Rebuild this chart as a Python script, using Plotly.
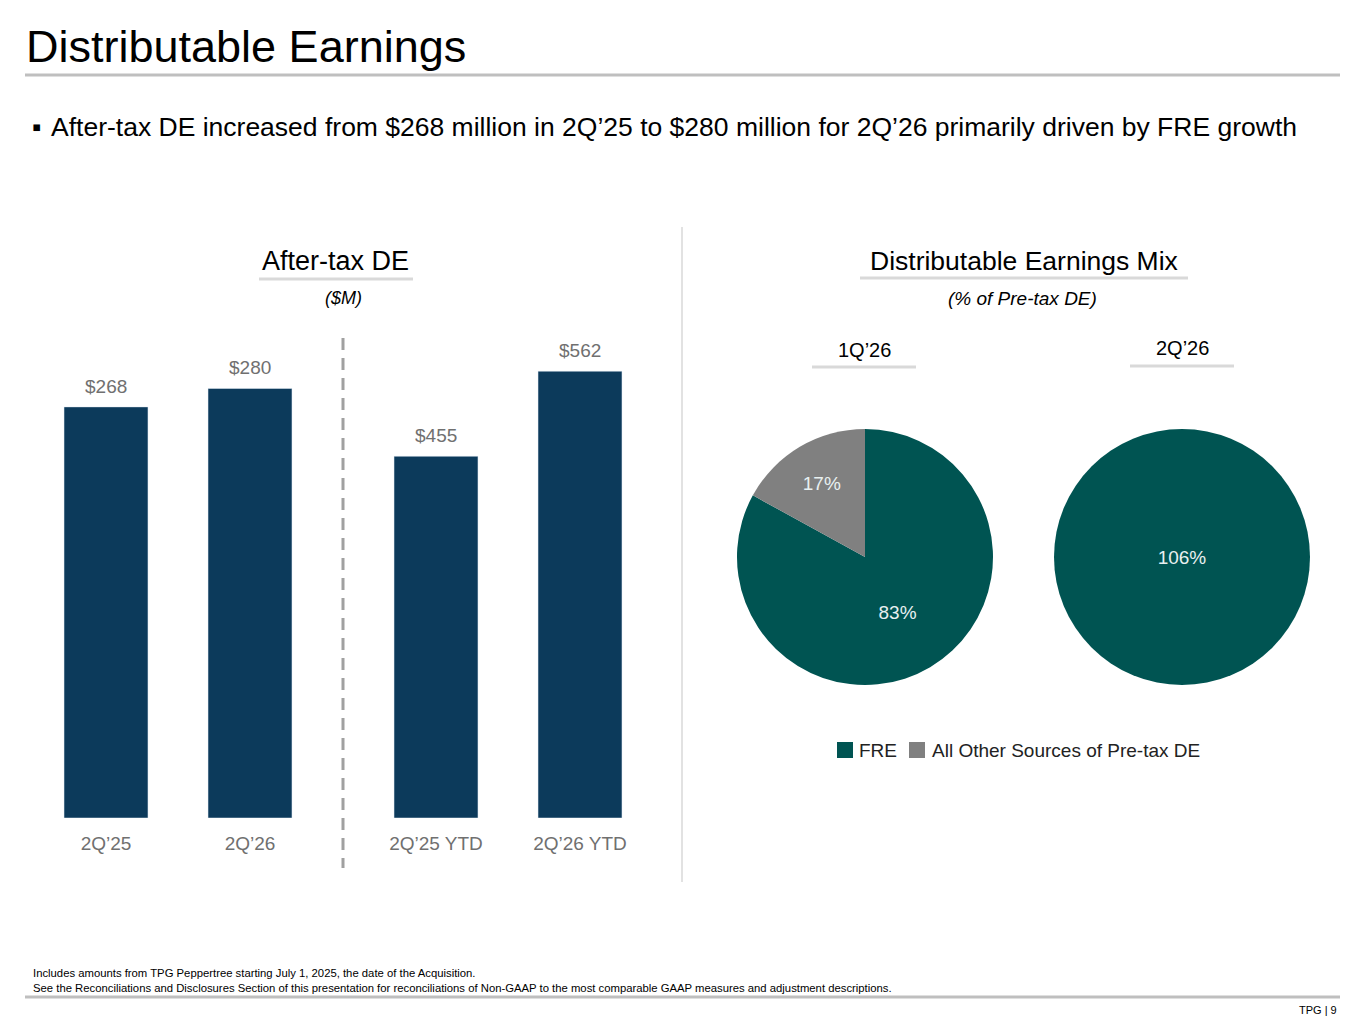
import plotly.graph_objects as go

W, H = 1349, 1008   # page body has an 8px margin, figure sits at (8, 8)
OFF = 8

# bar data (two separately scaled panels)
quarters = ["2Q’25", "2Q’26"]
quarter_vals = [268, 280]
ytd = ["2Q’25 YTD", "2Q’26 YTD"]
ytd_vals = [455, 562]

# pie data (% of pre-tax DE)
mix_labels = ["FRE", "All Other Sources of Pre-tax DE"]
mix_1q26 = [83, 17]
mix_2q26 = [106, -6]
mix_2q26_text = ["106%", ""]

navy = "#0C3A5B"
teal = "#005452"
grey = "#808080"
lbl = "#707070"
FONT = "Liberation Sans, Arial, sans-serif"


def px(x):
    return (x - OFF) / W


def py(y):
    return 1 - (y - OFF) / H


fig = go.Figure()

fig.add_trace(go.Bar(x=quarters, y=quarter_vals, marker_color=navy, width=0.583,
                     xaxis="x", yaxis="y", showlegend=False, hoverinfo="skip"))
fig.add_trace(go.Bar(x=ytd, y=ytd_vals, marker_color=navy, width=0.583,
                     xaxis="x2", yaxis="y2", showlegend=False, hoverinfo="skip"))

fig.add_trace(go.Pie(
    labels=mix_labels, values=mix_1q26, sort=False, direction="clockwise",
    marker=dict(colors=[teal, grey], line=dict(width=0)),
    text=[f"{v}%" for v in mix_1q26], textinfo="text", textposition="inside",
    insidetextfont=dict(size=19, color="#E8F0F0", family=FONT),
    domain=dict(x=[px(737), px(993)], y=[py(685), py(429)]),
    hoverinfo="skip", showlegend=False,
))
fig.add_trace(go.Pie(
    labels=mix_labels, values=[max(v, 0) for v in mix_2q26], sort=False, direction="clockwise",
    marker=dict(colors=[teal, grey], line=dict(width=0)),
    text=mix_2q26_text, textinfo="text", textposition="inside",
    insidetextfont=dict(size=19, color="#E8F0F0", family=FONT),
    domain=dict(x=[px(1054), px(1310)], y=[py(685), py(429)]),
    hoverinfo="skip", showlegend=False,
))

ydom = [py(818), py(340)]
axis_common = dict(showgrid=False, zeroline=False, showline=False, ticks="",
                   tickfont=dict(size=19, color=lbl, family=FONT))
fig.update_layout(
    width=W, height=H, margin=dict(l=0, r=0, t=0, b=0),
    paper_bgcolor="white", plot_bgcolor="white",
    font=dict(family=FONT, color="black"),
    bargap=0.417,
    xaxis=dict(domain=[px(34), px(322)], ticklabelstandoff=12, **axis_common),
    xaxis2=dict(domain=[px(364), px(652)], anchor="y2", ticklabelstandoff=12, **axis_common),
    yaxis=dict(domain=ydom, range=[0, 478 / 1.534], visible=False),
    yaxis2=dict(domain=ydom, range=[0, 478 / 0.795], anchor="x2", visible=False),
    showlegend=False,
)

ann = []
for xs, vs, xa, ya in [(quarters, quarter_vals, "x", "y"), (ytd, ytd_vals, "x2", "y2")]:
    for c, v in zip(xs, vs):
        ann.append(dict(x=c, y=v, xref=xa, yref=ya, text=f"${v}", showarrow=False,
                        yanchor="bottom", yshift=8, font=dict(size=19, color=lbl)))


def txt(x, y, s, size, **kw):
    d = dict(x=px(x), y=py(y), xref="paper", yref="paper", text=s, showarrow=False,
             font=dict(size=size, color=kw.pop("color", "black"), family=FONT),
             xanchor=kw.pop("xanchor", "center"), yanchor="middle")
    d.update(kw)
    ann.append(d)


txt(24, 47, "Distributable Earnings", 45, xanchor="left")
txt(30, 127, "▪", 26.5, xanchor="left")
txt(49, 127, "After-tax DE increased from $268 million in 2Q’25 to $280 million for 2Q’26 primarily driven by FRE growth",
    26.5, xanchor="left")
txt(335, 261, "After-tax DE", 27)
txt(343, 298, "<i>($M)</i>", 18)
txt(1024, 261, "Distributable Earnings Mix", 26.5)
txt(1023, 298, "<i>(% of Pre-tax DE)</i>", 19)
txt(864, 350, "1Q’26", 20)
txt(1182, 348, "2Q’26", 20)
# legend
txt(857, 750, "FRE", 19, xanchor="left", color="#222222")
txt(930, 750, "All Other Sources of Pre-tax DE", 19, xanchor="left", color="#222222")
txt(31, 973, "Includes amounts from TPG Peppertree starting July 1, 2025, the date of the Acquisition.", 11.3,
    xanchor="left")
txt(31, 988, "See the Reconciliations and Disclosures Section of this presentation for reconciliations of "
    "Non-GAAP to the most comparable GAAP measures and adjustment descriptions.", 11.3, xanchor="left")
txt(1339, 1010, "TPG | 9", 11, xanchor="right")
fig.update_layout(annotations=ann)


def hline(x0, x1, y, color, w):
    fig.add_shape(type="line", xref="paper", yref="paper", x0=px(x0), x1=px(x1), y0=py(y), y1=py(y),
                  line=dict(color=color, width=w))


def square(x0, y0, color):
    fig.add_shape(type="rect", xref="paper", yref="paper", x0=px(x0), x1=px(x0 + 16),
                  y0=py(y0 + 16), y1=py(y0), fillcolor=color, line=dict(width=0))


hline(25, 1340, 75, "#BFBFBF", 3)
hline(25, 1340, 997, "#BFBFBF", 3)
hline(259, 413, 279, "#D9D9D9", 3)
hline(860, 1188, 278, "#D9D9D9", 3)
hline(812, 916, 367, "#D9D9D9", 3)
hline(1130, 1234, 366, "#D9D9D9", 3)
square(837, 742, teal)
square(909, 742, grey)
fig.add_shape(type="line", xref="paper", yref="paper", x0=px(682), x1=px(682), y0=py(227), y1=py(882),
              line=dict(color="#D9D9D9", width=1.5))
fig.add_shape(type="line", xref="paper", yref="paper", x0=px(343), x1=px(343), y0=py(338), y1=py(868),
              line=dict(color="#A0A0A0", width=3, dash="12px,8px"))

fig.write_html("out.html")
